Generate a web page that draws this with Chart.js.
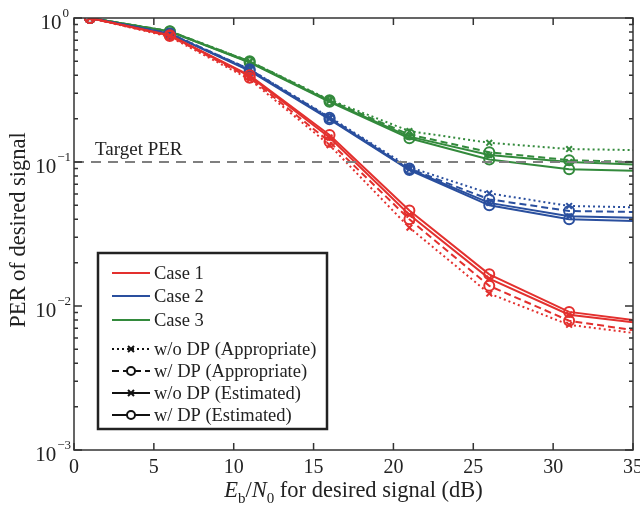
<!DOCTYPE html>
<html>
<head>
<meta charset="utf-8">
<script src="https://cdn.jsdelivr.net/npm/chart.js@4.4.0/dist/chart.umd.min.js"></script>
<style>
  html, body { margin: 0; padding: 0; background: #fff; }
  #wrap { width: 640px; height: 511px; }
</style>
</head>
<body>
<div id="wrap"><canvas id="perChart"></canvas></div>
<script>
// Eb/N0 points (dB)
const snrPoints = [1, 6, 11, 16, 21, 26, 31, 35];

// Case 1 (red)
const case1WoDpApp = [1, 0.74, 0.375, 0.131, 0.035, 0.0122, 0.0074, 0.0065];
const case1WDpApp  = [1, 0.75, 0.385, 0.138, 0.040, 0.0138, 0.0079, 0.0068];
const case1WoDpEst = [1, 0.755, 0.395, 0.148, 0.043, 0.0155, 0.0087, 0.0077];
const case1WDpEst  = [1, 0.76, 0.40, 0.154, 0.046, 0.0166, 0.0091, 0.0080];

// Case 2 (blue)
const case2WoDpApp = [1, 0.78, 0.44, 0.205, 0.092, 0.0606, 0.0495, 0.0485];
const case2WDpApp  = [1, 0.78, 0.44, 0.203, 0.090, 0.055, 0.0457, 0.045];
const case2WoDpEst = [1, 0.775, 0.435, 0.20, 0.089, 0.052, 0.042, 0.041];
const case2WDpEst  = [1, 0.775, 0.43, 0.198, 0.088, 0.050, 0.040, 0.039];

// Case 3 (green)
const case3WoDpApp = [1, 0.81, 0.50, 0.27, 0.164, 0.136, 0.123, 0.121];
const case3WDpApp  = [1, 0.81, 0.50, 0.268, 0.155, 0.117, 0.103, 0.100];
const case3WoDpEst = [1, 0.805, 0.495, 0.265, 0.150, 0.112, 0.100, 0.096];
const case3WDpEst  = [1, 0.805, 0.49, 0.262, 0.146, 0.104, 0.089, 0.087];

const targetPer = 0.1;
const xTicks = [0, 5, 10, 15, 20, 25, 30, 35];
const yDecades = [-3, -2, -1, 0];

const caseLabels = ["Case 1", "Case 2", "Case 3"];
const styleLabels = ["w/o DP (Appropriate)", "w/ DP (Appropriate)", "w/o DP (Estimated)", "w/ DP (Estimated)"];

const colors = ['#e3302e', '#2a4f9e', '#338a3c'];
const serif = '"Liberation Serif", "DejaVu Serif", serif';

// line style per variant: dash, marker
const variants = [
    { dash: [2, 3], marker: 'crossRot' },
    { dash: [7, 4], marker: 'circle' },
    { dash: [], marker: 'crossRot' },
    { dash: [], marker: 'circle' }
];

const allSeries = [
    [case1WoDpApp, case1WDpApp, case1WoDpEst, case1WDpEst],
    [case2WoDpApp, case2WDpApp, case2WoDpEst, case2WDpEst],
    [case3WoDpApp, case3WDpApp, case3WoDpEst, case3WDpEst]
];

const datasets = [];
datasets.push({
    label: 'Target PER',
    data: [{ x: 0, y: targetPer }, { x: 35, y: targetPer }],
    borderColor: '#7f7f7f',
    borderWidth: 2,
    borderDash: [10, 7],
    pointRadius: 0
});
allSeries.forEach((group, c) => {
    group.forEach((vals, v) => {
        datasets.push({
            label: caseLabels[c] + ' ' + styleLabels[v],
            data: vals.map((y, i) => ({ x: snrPoints[i], y: y })),
            borderColor: colors[c],
            borderWidth: 2,
            borderDash: variants[v].dash,
            pointStyle: variants[v].marker,
            pointRadius: vals.map((_, i) => i === vals.length - 1 ? 0 : (variants[v].marker === 'circle' ? 5 : 4)),
            pointBorderColor: colors[c],
            pointBackgroundColor: 'rgba(255,255,255,0)',
            pointBorderWidth: 2,
            tension: 0
        });
    });
});

function drawSup(ctx, base, sup, xRight, y) {
    const baseFont = '21px ' + serif;
    const supFont = '13px ' + serif;
    ctx.textBaseline = 'middle';
    ctx.textAlign = 'left';
    ctx.font = supFont;
    const wSup = ctx.measureText(sup).width;
    ctx.font = baseFont;
    const wBase = ctx.measureText(base).width;
    const x0 = xRight - wSup - wBase;
    ctx.fillText(base, x0, y + 5);
    ctx.font = supFont;
    ctx.fillText(sup, x0 + wBase + 1, y - 4);
}

const framePlugin = {
    id: 'framePlugin',
    afterDraw(chart) {
        const ctx = chart.ctx;
        const a = chart.chartArea;
        const xs = chart.scales.x, ys = chart.scales.y;
        ctx.save();
        ctx.strokeStyle = '#333';
        ctx.fillStyle = '#222';
        ctx.lineWidth = 1.5;
        ctx.strokeRect(a.left, a.top, a.right - a.left, a.bottom - a.top);

        // x ticks
        ctx.beginPath();
        xTicks.forEach(t => {
            const px = xs.getPixelForValue(t);
            ctx.moveTo(px, a.bottom); ctx.lineTo(px, a.bottom - 7);
            ctx.moveTo(px, a.top); ctx.lineTo(px, a.top + 7);
        });
        // y ticks (major + minor)
        yDecades.forEach(d => {
            const py = ys.getPixelForValue(Math.pow(10, d));
            ctx.moveTo(a.left, py); ctx.lineTo(a.left + 8, py);
            ctx.moveTo(a.right, py); ctx.lineTo(a.right - 8, py);
            if (d < 0) {
                for (let m = 2; m <= 9; m++) {
                    const pm = ys.getPixelForValue(m * Math.pow(10, d));
                    ctx.moveTo(a.left, pm); ctx.lineTo(a.left + 4, pm);
                    ctx.moveTo(a.right, pm); ctx.lineTo(a.right - 4, pm);
                }
            }
        });
        ctx.stroke();

        // x tick labels
        ctx.font = '20px ' + serif;
        ctx.textAlign = 'center';
        ctx.textBaseline = 'top';
        xTicks.forEach(t => {
            ctx.fillText(String(t), xs.getPixelForValue(t), a.bottom + 8);
        });
        // y tick labels
        yDecades.forEach(d => {
            const py = ys.getPixelForValue(Math.pow(10, d));
            drawSup(ctx, '10', d === 0 ? '0' : '\u2212' + (-d), d === 0 ? a.left - 6 : a.left - 4, py);
        });

        // y axis title
        ctx.save();
        ctx.translate(19, 230);
        ctx.rotate(-Math.PI / 2);
        ctx.font = '22.5px ' + serif;
        ctx.textAlign = 'center';
        ctx.textBaseline = 'middle';
        ctx.fillText('PER of desired signal', 0, 0);
        ctx.restore();

        // x axis title: E_b/N_0 for desired signal (dB)
        const parts = [
            { t: 'E', f: 'italic 22.5px ' + serif, dy: 0 },
            { t: 'b', f: '15px ' + serif, dy: 6 },
            { t: '/', f: '22.5px ' + serif, dy: 0 },
            { t: 'N', f: 'italic 22.5px ' + serif, dy: 0 },
            { t: '0', f: '15px ' + serif, dy: 6 },
            { t: ' for desired signal (dB)', f: '22.5px ' + serif, dy: 0 }
        ];
        let total = 0;
        parts.forEach(p => { ctx.font = p.f; p.w = ctx.measureText(p.t).width; total += p.w; });
        let cx = (a.left + a.right) / 2 - total / 2;
        ctx.textAlign = 'left';
        ctx.textBaseline = 'alphabetic';
        parts.forEach(p => { ctx.font = p.f; ctx.fillText(p.t, cx, 497 + p.dy); cx += p.w; });

        // target text
        ctx.font = '19px ' + serif;
        ctx.textBaseline = 'alphabetic';
        ctx.fillText('Target PER', 95, 155);

        // legend box
        const bx = 98, by = 253, bw = 229, bh = 176;
        ctx.fillStyle = '#fff';
        ctx.fillRect(bx, by, bw, bh);
        ctx.lineWidth = 2.5;
        ctx.strokeStyle = '#222';
        ctx.strokeRect(bx, by, bw, bh);
        ctx.font = '18.5px ' + serif;
        ctx.textBaseline = 'middle';
        const lx0 = 112, lx1 = 150, tx = 154;
        const caseY = [273, 296, 320];
        caseLabels.forEach((lab, i) => {
            ctx.strokeStyle = colors[i];
            ctx.lineWidth = 2;
            ctx.setLineDash([]);
            ctx.beginPath(); ctx.moveTo(lx0, caseY[i]); ctx.lineTo(lx1, caseY[i]); ctx.stroke();
            ctx.fillStyle = '#222';
            ctx.fillText(lab, tx, caseY[i] + 1);
        });
        const styleY = [349, 371, 393, 415];
        styleLabels.forEach((lab, i) => {
            const y = styleY[i];
            ctx.strokeStyle = '#111';
            ctx.lineWidth = 2;
            ctx.setLineDash(variants[i].dash);
            ctx.beginPath(); ctx.moveTo(lx0, y); ctx.lineTo(lx1, y); ctx.stroke();
            ctx.setLineDash([]);
            const mx = (lx0 + lx1) / 2;
            ctx.beginPath();
            if (variants[i].marker === 'circle') {
                ctx.fillStyle = '#fff';
                ctx.arc(mx, y, 4, 0, Math.PI * 2);
                ctx.fill();
                ctx.stroke();
            } else {
                ctx.moveTo(mx - 3, y - 3); ctx.lineTo(mx + 3, y + 3);
                ctx.moveTo(mx + 3, y - 3); ctx.lineTo(mx - 3, y + 3);
                ctx.stroke();
            }
            ctx.fillStyle = '#222';
            ctx.fillText(lab, tx, y + 1);
        });
        ctx.restore();
    }
};

new Chart(document.getElementById('perChart'), {
    type: 'line',
    data: { datasets: datasets },
    options: {
        responsive: true,
        maintainAspectRatio: false,
        animation: false,
        layout: { padding: { left: 74, right: 6, top: 18, bottom: 61 } },
        scales: {
            x: { type: 'linear', min: 0, max: 35, display: false },
            y: { type: 'logarithmic', min: 0.001, max: 1, display: false }
        },
        plugins: {
            legend: { display: false },
            tooltip: { enabled: false }
        }
    },
    plugins: [framePlugin]
});
</script>
</body>
</html>
